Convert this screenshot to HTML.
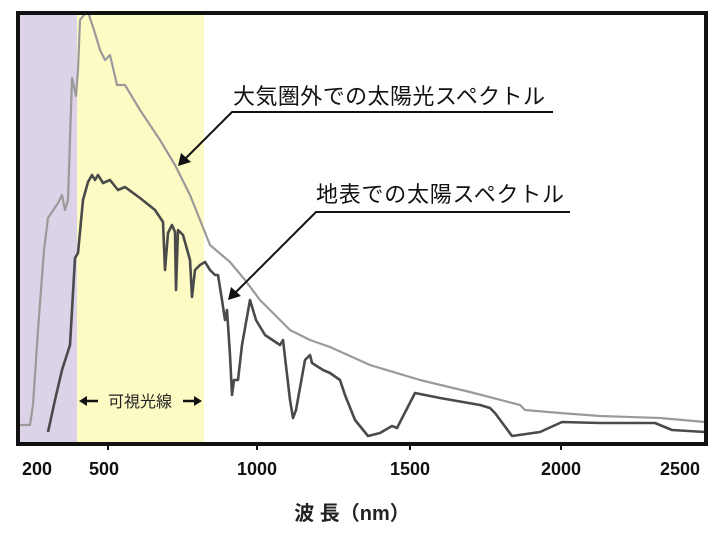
<!DOCTYPE html>
<html><head><meta charset="utf-8"><style>
body{margin:0;background:#fff;width:721px;height:534px;overflow:hidden}
text{font-family:"Liberation Sans","Noto Sans CJK JP",sans-serif}
</style></head><body>
<svg width="721" height="534" viewBox="0 0 721 534" xmlns="http://www.w3.org/2000/svg">
<rect x="18" y="13" width="59" height="431" fill="#dcd3e8"/>
<rect x="77" y="13" width="127" height="431" fill="#fdfbc4"/>
<polyline fill="none" stroke="#9a9a9a" stroke-width="2.2" stroke-linejoin="round" points="20,425 30,425 33,405 38,330 44,250 48,218 58,203 62,195 65,210 68,200 72,78 76,96 78,70 80,20 84,15 88,12 94,30 100,50 105,60 110,55 117,85 125,85 140,110 160,140 175,165 190,195 210,245 230,262 245,280 260,300 275,315 290,330 310,340 330,347 370,365 420,380 470,392 520,405 525,410 560,413 600,416 660,418 705,422"/>
<polyline fill="none" stroke="#4a4a4a" stroke-width="2.6" stroke-linejoin="round" points="48,432 55,400 62,370 70,345 75,258 78,253 83,200 88,182 92,175 95,180 98,175 103,183 110,180 118,190 125,187 140,198 155,210 163,222 165,270 168,233 172,225 175,232 176,290 178,230 183,235 190,260 192,297 195,270 200,265 205,262 210,270 215,275 218,275 222,300 225,320 227,310 230,355 232,395 234,380 238,380 242,345 250,300 256,320 265,335 280,345 283,340 290,400 293,418 296,410 305,360 310,355 312,363 323,370 330,373 340,380 345,395 355,420 368,436 380,433 392,426 397,428 415,393 440,398 480,405 490,408 495,413 512,436 540,432 562,422 600,423 655,423 672,430 705,432"/>
<rect x="18" y="13" width="688" height="431" fill="none" stroke="#111" stroke-width="4"/>
<g stroke="#111" stroke-width="2">
<line x1="108" y1="444" x2="108" y2="450"/><line x1="257" y1="444" x2="257" y2="450"/><line x1="410" y1="444" x2="410" y2="450"/><line x1="561" y1="444" x2="561" y2="450"/>
</g>
<g font-size="18" font-weight="bold" fill="#111" text-anchor="middle">
<text x="37" y="475">200</text><text x="104" y="475">500</text><text x="257" y="475">1000</text><text x="410" y="475">1500</text><text x="561" y="475">2000</text><text x="680" y="475">2500</text>
</g>
<text x="352" y="520" font-size="20" font-weight="bold" text-anchor="middle" fill="#222">波 長（nm）</text>
<text x="140" y="407" font-size="16" text-anchor="middle" fill="#222">可視光線</text>
<g stroke="#111" stroke-width="2.5"><line x1="84" y1="401" x2="98" y2="401"/><line x1="183" y1="401" x2="197" y2="401"/></g>
<polygon points="79,401 87,396 87,406" fill="#111"/>
<polygon points="202,401 194,396 194,406" fill="#111"/>
<text x="233" y="104" font-size="22" fill="#111" textLength="312">大気圏外での太陽光スペクトル</text>
<text x="316" y="202" font-size="22" fill="#111" textLength="248">地表での太陽スペクトル</text>
<g stroke="#111" stroke-width="2" fill="none">
<polyline points="553,112 232,112 184,160"/>
<polyline points="570,212 316,212 234,294"/>
</g>
<polygon points="178,166 181,153 191,162" fill="#111"/>
<polygon points="228,300 231,287 241,296" fill="#111"/>
</svg>
</body></html>
